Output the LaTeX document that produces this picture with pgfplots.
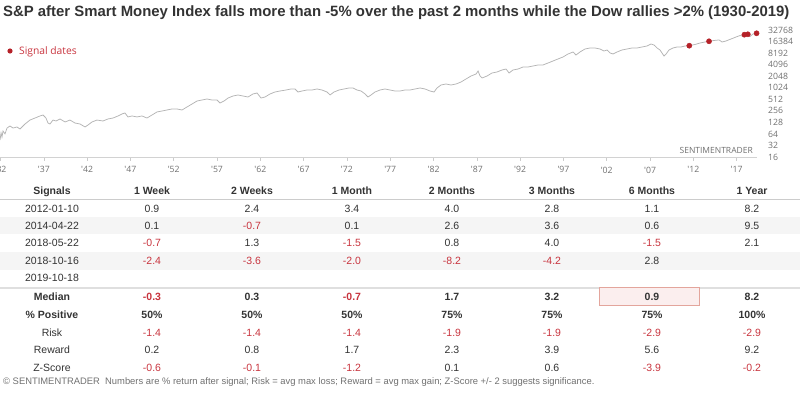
\documentclass[border=0pt]{standalone}
\usepackage{fontspec}
\setmainfont{Liberation Sans}
\newfontfamily\segoe{Open Sans}
\usepackage{pgfplots}
\pgfplotsset{compat=1.18}
\definecolor{negred}{HTML}{C8343E}
\definecolor{txt}{HTML}{333333}
\definecolor{dotred}{HTML}{B52128}
\definecolor{linegray}{HTML}{B4B4B4}
\definecolor{tickgray}{HTML}{707070}
\definecolor{rowgray}{HTML}{F5F5F5}
\definecolor{boxfill}{HTML}{FBEEEE}
\definecolor{boxline}{HTML}{E3A59C}
\newcommand\val[1]{\ifdim #1pt<0pt\textcolor{negred}{#1}\else #1\fi}

\pgfplotstableread{
year value
1932.44 44
1932.56 68
1932.67 53
1932.79 76
1933.02 64
1933.25 91
1933.60 103
1933.94 91
1934.40 97
1934.75 86
1935.33 116
1935.90 147
1936.48 166
1937.06 188
1937.41 199
1937.75 166
1937.98 123
1938.21 116
1938.56 147
1938.91 139
1939.37 157
1939.95 131
1940.52 147
1941.10 123
1941.68 116
1942.26 97
1942.60 109
1943.06 131
1943.64 147
1944.33 139
1944.91 157
1945.49 166
1946.07 188
1946.53 212
1946.87 225
1947.22 177
1947.68 188
1948.26 177
1948.84 188
1949.41 166
1949.99 199
1950.57 239
1951.15 253
1951.72 269
1952.30 286
1952.88 286
1953.46 269
1954.03 322
1954.61 385
1955.19 461
1955.77 490
1956.34 520
1956.92 490
1957.50 490
1957.84 410
1958.31 461
1958.77 552
1959.35 623
1959.92 662
1960.50 623
1961.08 587
1961.65 703
1962.12 746
1962.58 552
1963.04 587
1963.62 703
1964.19 792
1964.77 841
1965.47 893
1966.04 949
1966.50 949
1966.85 792
1967.31 841
1967.89 893
1968.47 893
1969.05 949
1969.62 893
1970.20 792
1970.55 662
1971.01 792
1971.59 893
1972.16 949
1972.74 1008
1973.20 1008
1973.66 893
1974.13 841
1974.59 703
1974.93 587
1975.28 662
1975.74 792
1976.32 893
1976.90 949
1977.47 893
1978.05 841
1978.63 841
1979.21 893
1979.78 893
1980.36 949
1980.94 1008
1981.52 949
1982.09 841
1982.56 792
1982.90 1008
1983.36 1206
1983.94 1280
1984.52 1206
1985.10 1280
1985.67 1444
1986.25 1730
1986.83 2070
1987.41 2334
1987.64 2797
1987.87 2070
1988.10 1837
1988.68 2070
1989.25 2480
1989.83 2634
1990.41 2970
1990.87 3150
1991.22 2480
1991.68 2970
1992.26 3150
1992.83 3555
1993.41 3555
1993.99 3772
1994.56 4010
1995.14 4010
1995.72 4520
1996.30 5100
1996.87 5750
1997.45 6480
1998.03 7760
1998.61 8750
1998.95 7300
1999.41 8750
1999.99 10480
2000.57 11120
2001.15 11120
2001.72 10480
2002.19 9290
2002.53 9870
2002.88 8240
2003.23 7760
2003.69 8750
2004.26 9870
2004.84 10480
2005.42 11120
2006.00 11120
2006.57 11810
2007.15 12540
2007.61 14150
2007.96 13300
2008.31 11120
2008.65 9870
2008.88 8240
2009.11 6880
2009.35 7760
2009.69 9870
2010.15 11120
2010.62 11810
2011.08 11810
2011.54 12540
2012.03 12770
2012.69 13730
2013.27 15010
2013.85 15950
2014.31 16640
2014.89 17440
2015.47 18050
2015.81 15950
2016.27 16940
2016.85 19100
2017.43 21520
2017.89 23550
2018.12 22900
2018.39 24720
2018.81 25330
2019.04 22180
2019.39 25770
2019.80 26900
}\spx

\pgfplotstableread{
year value
2012.03 12770
2014.31 16640
2018.39 24720
2018.79 25330
2019.80 26900
}\signals

\begin{document}
\begin{tikzpicture}[x=1pt,y=1pt]
\useasboundingbox (0,-395) rectangle (800,0);
\clip (0,-395) rectangle (800,0);

\begin{axis}[
  at={(0pt,-157pt)}, anchor=south west,
  scale only axis, width=757pt, height=127pt,
  xmin=1932.44, xmax=2019.85,
  ymode=log, log basis y=2, ymin=16, ymax=32768,
  axis x line*=bottom, axis y line*=right,
  x axis line style={draw=gray!35, line width=0.8pt},
  y axis line style={draw=none},
  xtick={1932.5,1937.5,...,2017.5},
  xticklabels={'32,'37,'42,'47,'52,'57,'62,'67,'72,'77,'82,'87,'92,'97,'02,'07,'12,'17},
  xtick style={draw=gray!40, line width=0.6pt},
  tick align=outside, major tick length=4pt,
  ytick={16,32,64,128,256,512,1024,2048,4096,8192,16384,32768},
  yticklabels={16,32,64,128,256,512,1024,2048,4096,8192,16384,32768},
  ytick style={draw=none},
  yticklabel style={anchor=west, inner sep=0pt, xshift=7pt},
  xticklabel style={inner sep=0pt, yshift=-5.5pt},
  ticklabel style={font=\segoe\fontsize{8.7}{10}\selectfont, text=tickgray},
  clip=false,
]
\addplot[linegray, line width=0.75pt] table[x=year, y=value] {\spx};
\addplot[only marks, mark=*, mark size=2.6pt, mark options={fill=dotred, draw=dotred}] table[x=year, y=value] {\signals};
\end{axis}

\begin{scope}[x=1pt,y=-1pt]
% title
\node[anchor=base west, inner sep=0, text=txt, font=\bfseries\fontsize{14.9}{18}\selectfont] at (3,16.7)
 {S\&P after Smart Money Index falls more than -5\% over the past 2 months while the Dow rallies >2\% (1930-2019)};

% legend
\fill[dotred] (10,51) circle (2.6);
\node[anchor=base west, inner sep=0, text=negred, font=\segoe\fontsize{10.3}{12}\selectfont] at (19,54.8) {Signal dates};

\node[anchor=base east, inner sep=0, text=tickgray, font=\segoe\fontsize{8.5}{10}\selectfont] at (753,154) {SENTIMENTRADER};

% table backgrounds
\fill[rowgray] (0,217.3) rectangle (800,234.3);
\fill[rowgray] (0,252) rectangle (800,270);
\draw[gray!40, line width=0.8pt] (0,199.3) -- (800,199.3);
\draw[gray!25, line width=2pt] (0,287.5) -- (800,287.5);
\draw[fill=boxfill, draw=boxline, line width=0.8pt] (599.3,287.5) rectangle (699.3,305.3);

\tikzset{cell/.style={anchor=base, inner sep=0, text=txt, font=\fontsize{10.5}{12}\selectfont},
         bcell/.style={cell, font=\bfseries\fontsize{10.5}{12}\selectfont}}

% header
\foreach \h [count=\i from 0] in {Signals,1 Week,2 Weeks,1 Month,2 Months,3 Months,6 Months,1 Year}
  \node[bcell] at ({52+100*\i},194.5) {\h};

% dates
\foreach \d/\yy in {2012-01-10/208.3, 2014-04-22/225.7, 2018-05-22/243, 2018-10-16/260.3, 2019-10-18/277.7}
  \node[cell] at (52,\yy+3.8) {\d};

% signal rows
\foreach \v [count=\i] in {0.9,2.4,3.4,4.0,2.8,1.1,8.2} \node[cell] at ({52+100*\i},212.1) {\val{\v}};
\foreach \v [count=\i] in {0.1,-0.7,0.1,2.6,3.6,0.6,9.5} \node[cell] at ({52+100*\i},229.5) {\val{\v}};
\foreach \v [count=\i] in {-0.7,1.3,-1.5,0.8,4.0,-1.5,2.1} \node[cell] at ({52+100*\i},246.8) {\val{\v}};
\foreach \v [count=\i] in {-2.4,-3.6,-2.0,-8.2,-4.2,2.8} \node[cell] at ({52+100*\i},264.1) {\val{\v}};

% summary rows
\node[bcell] at (52,300.5) {Median};
\foreach \v [count=\i] in {-0.3,0.3,-0.7,1.7,3.2,0.9,8.2} \node[bcell] at ({52+100*\i},300.5) {\val{\v}};
\node[bcell] at (52,318.1) {\% Positive};
\foreach \v [count=\i] in {50,50,50,75,75,75,100} \node[bcell] at ({52+100*\i},318.1) {\v\%};
\node[cell] at (52,336.1) {Risk};
\foreach \v [count=\i] in {-1.4,-1.4,-1.4,-1.9,-1.9,-2.9,-2.9} \node[cell] at ({52+100*\i},336.1) {\val{\v}};
\node[cell] at (52,353.8) {Reward};
\foreach \v [count=\i] in {0.2,0.8,1.7,2.3,3.9,5.6,9.2} \node[cell] at ({52+100*\i},353.8) {\val{\v}};
\node[cell] at (52,371.5) {Z-Score};
\foreach \v [count=\i] in {-0.6,-0.1,-1.2,0.1,0.6,-3.9,-0.2} \node[cell] at ({52+100*\i},371.5) {\val{\v}};

% footer
\node[anchor=base west, inner sep=0, text=tickgray, font=\fontsize{9.4}{11}\selectfont] at (3,384)
 {\textcopyright\ SENTIMENTRADER\ \ Numbers are \% return after signal; Risk = avg max loss; Reward = avg max gain; Z-Score +/- 2 suggests significance.};
\end{scope}
\end{tikzpicture}
\end{document}
